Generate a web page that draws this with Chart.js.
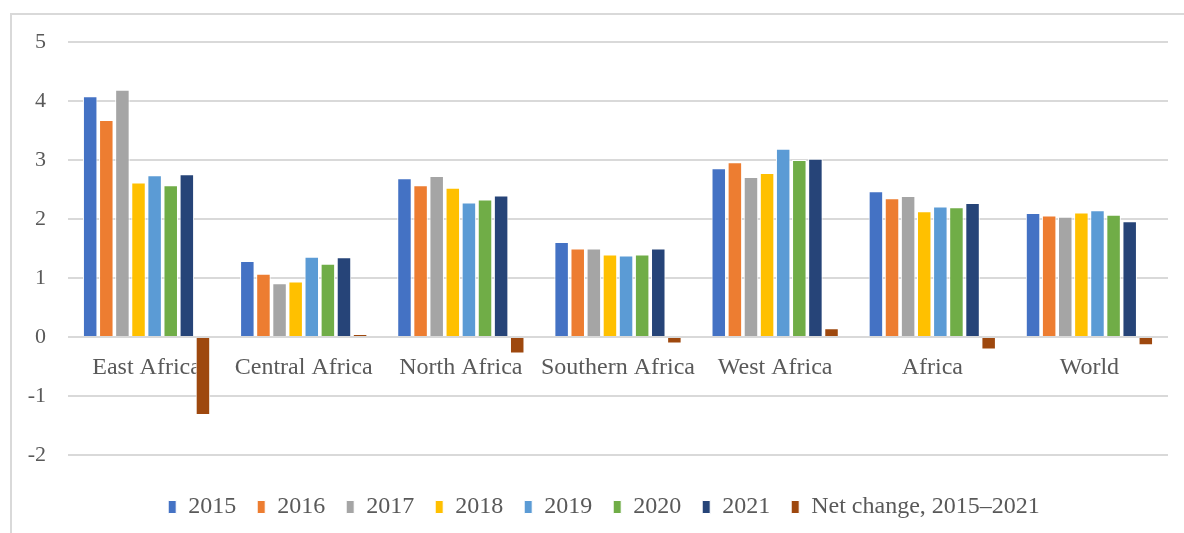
<!DOCTYPE html>
<html>
<head>
<meta charset="utf-8">
<script src="https://cdn.jsdelivr.net/npm/chart.js@4"></script>
<style>
    html, body { margin: 0; padding: 0; background: #fff; }
    #wrap { position: relative; width: 1184px; height: 533px; overflow: hidden; }
    #frame { position: absolute; left: 10px; top: 13px; width: 1200px; height: 560px; border: 2px solid #d9d9d9; box-sizing: border-box; pointer-events: none; }
    canvas { position: absolute; left: 0; top: 0; }
</style>
</head>
<body>
<div id="wrap">
    <div id="frame"></div>
    <canvas id="chart" width="1184" height="533"></canvas>
</div>
<script>
// Catégories (régions)
const regions = ["East Africa", "Central Africa", "North Africa", "Southern Africa", "West Africa", "Africa", "World"];

// Valeurs par année
const v2015 = [4.08, 1.29, 2.69, 1.61, 2.86, 2.47, 2.10];
const v2016 = [3.68, 1.07, 2.57, 1.50, 2.96, 2.35, 2.06];
const v2017 = [4.19, 0.91, 2.73, 1.50, 2.71, 2.39, 2.04];
const v2018 = [2.62, 0.94, 2.53, 1.40, 2.78, 2.13, 2.11];
const v2019 = [2.74, 1.36, 2.28, 1.38, 3.19, 2.21, 2.15];
const v2020 = [2.57, 1.24, 2.33, 1.40, 3.00, 2.20, 2.07];
const v2021 = [2.76, 1.35, 2.40, 1.50, 3.02, 2.27, 1.96];
const netChange = [-1.32, 0.05, -0.28, -0.11, 0.15, -0.21, -0.14];

const seriesLabels = ["2015", "2016", "2017", "2018", "2019", "2020", "2021", "Net change, 2015\u20132021"];
const seriesValues = [v2015, v2016, v2017, v2018, v2019, v2020, v2021, netChange];
const seriesColors = ["#4472C4", "#ED7D31", "#A5A5A5", "#FFC000", "#5B9BD5", "#70AD47", "#264478", "#9E480E"];

const yTicks = [-2, -1, 0, 1, 2, 3, 4, 5];

const fontFamily = "'Liberation Serif', 'Times New Roman', serif";
const textColor = "#595959";

// Construire les jeux de données
const datasets = seriesLabels.map((label, i) => ({
    label: label,
    data: seriesValues[i],
    backgroundColor: seriesColors[i],
    borderColor: "#ffffff",
    borderWidth: 1,
    categoryPercentage: 0.82,
    barPercentage: 0.9
}));

// Décaler légèrement la légende vers la droite (comme dans Excel)
const legendShift = {
    id: "legendShift",
    afterLayout(chart) {
        chart.legend.left += 10;
        chart.legend.right += 10;
    }
};

const ctx = document.getElementById("chart").getContext("2d");
new Chart(ctx, {
    type: "bar",
    data: { labels: regions, datasets: datasets },
    plugins: [legendShift],
    options: {
        responsive: false,
        animation: false,
        layout: { padding: { left: 20, right: 16, top: 42, bottom: 4 } },
        plugins: {
            tooltip: { enabled: false },
            legend: {
                position: "bottom",
                // titre vide pour espacer la légende du graphique
                title: { display: true, text: " ", font: { size: 10 }, padding: { top: 0, bottom: 7 } },
                labels: {
                    font: { family: fontFamily, size: 24 },
                    color: textColor,
                    boxWidth: 8,
                    boxHeight: 13,
                    padding: 21
                }
            }
        },
        scales: {
            x: {
                position: { y: 0 },
                grid: { display: false },
                border: { display: false },
                ticks: {
                    font: { family: fontFamily, size: 24 },
                    color: textColor,
                    padding: 8,
                    maxRotation: 0
                },
                afterFit: s => { s.height = 0; }
            },
            y: {
                min: -2,
                max: 5,
                afterBuildTicks: s => { s.ticks = yTicks.map(v => ({ value: v })); },
                grid: { color: "#d9d9d9", lineWidth: 2, drawTicks: false },
                border: { display: false },
                ticks: {
                    font: { family: fontFamily, size: 22 },
                    color: textColor,
                    padding: 22
                },
                afterFit: s => { s.width = 48; }
            }
        }
    }
});
</script>
</body>
</html>
